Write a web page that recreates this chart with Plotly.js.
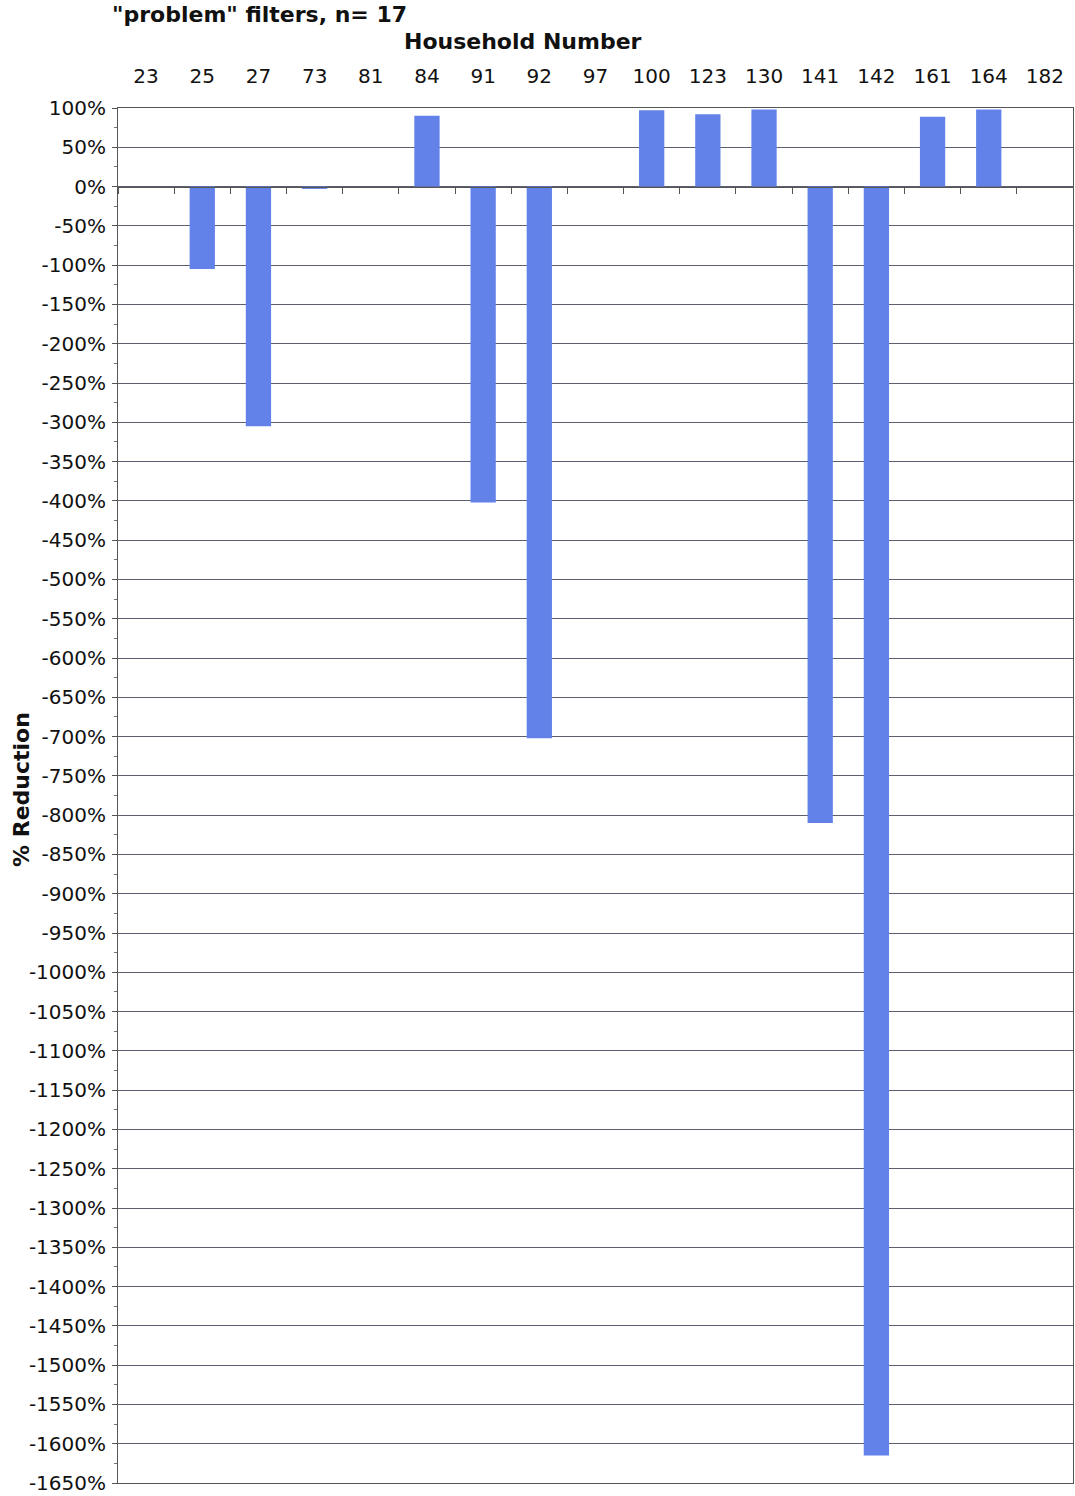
<!DOCTYPE html>
<html>
<head>
<meta charset="utf-8">
<script src="https://cdn.plot.ly/plotly-3.0.1.min.js"></script>
<style>html,body{margin:0;padding:0;background:#fff;}</style>
</head>
<body>
<div id="chart" style="width:1075px;height:1496px;"></div>
<script>
const households = ["23","25","27","73","81","84","91","92","97","100","123","130","141","142","161","164","182"];
const reductionPct = [0, -105, -305, -3, 0, 90, -402, -702, 0, 97, 92, 98, -810, -1615, 89, 98, 0];
const yTickVals = [];
for (let v = 100; v >= -1650; v -= 50) yTickVals.push(v);
const yTickText = yTickVals.map(v => v + "%");

const font = "DejaVu Sans, Verdana, sans-serif";
const yMin = -1650, yMax = 100;
const zeroPos = (0 - yMin) / (yMax - yMin);
const xRange = [-0.5, households.length - 0.5];

const trace = {
  type: "bar",
  x: households,
  y: reductionPct,
  marker: {color: "#6282ea", line: {width: 0}},
  hoverinfo: "x+y"
};
const zeroAxisTrace = {
  type: "scatter", mode: "markers", x: households, y: households.map(() => null),
  xaxis: "x2", yaxis: "y", showlegend: false, hoverinfo: "skip"
};

const layout = {
  width: 1075, height: 1496,
  margin: {l: 118, r: 2, t: 108, b: 13},
  paper_bgcolor: "#fff", plot_bgcolor: "#fff",
  showlegend: false,
  bargap: 0.55,
  font: {family: font, color: "#111", size: 20},
  title: {text: "<b>\"problem\" filters, n= 17</b>", x: 112 / 1075, xref: "container", xanchor: "left",
          yref: "container", y: 1 - 7 / 1496, yanchor: "top", font: {family: font, size: 22, color: "#111"}},
  annotations: [
    {text: "<b>Household Number</b>", xref: "paper", yref: "paper", x: (523 - 118) / 955, y: 1 + 66 / 1375,
     xanchor: "center", yanchor: "middle", showarrow: false, font: {family: font, size: 22, color: "#111"}},
    {text: "<b>% Reduction</b>", xref: "paper", yref: "paper", x: (21 - 118) / 955, y: 1 - (790 - 108) / 1375,
     xanchor: "center", yanchor: "middle", textangle: -90, showarrow: false, font: {family: font, size: 22, color: "#111"}}
  ],
  xaxis: {
    type: "category", side: "top", range: xRange,
    tickfont: {family: font, size: 20, color: "#111"},
    ticklabelstandoff: 16,
    ticks: "", showgrid: false, showline: true, linecolor: "#555", mirror: true, linewidth: 1,
    zeroline: false
  },
  xaxis2: {
    type: "category", overlaying: "x", anchor: "free", position: zeroPos, side: "bottom",
    range: xRange, showticklabels: false, showline: true, linecolor: "#555", linewidth: 1,
    ticks: "outside", ticklen: 6, tickcolor: "#555", tickson: "boundaries", showgrid: false
  },
  yaxis: {
    range: [yMin, yMax], tickvals: yTickVals, ticktext: yTickText,
    tickfont: {family: font, size: 20, color: "#111"},
    ticklabelstandoff: 2,
    showgrid: true, gridcolor: "#5c5f70", gridwidth: 1,
    ticks: "outside", ticklen: 5, tickcolor: "#555",
    minor: {dtick: 25, tick0: 0, ticks: "outside", ticklen: 3, tickcolor: "#777", showgrid: false},
    showline: true, linecolor: "#555", mirror: true, linewidth: 1,
    zeroline: false
  }
};

Plotly.newPlot("chart", [trace, zeroAxisTrace], layout, {displayModeBar: false, staticPlot: true});
</script>
</body>
</html>
